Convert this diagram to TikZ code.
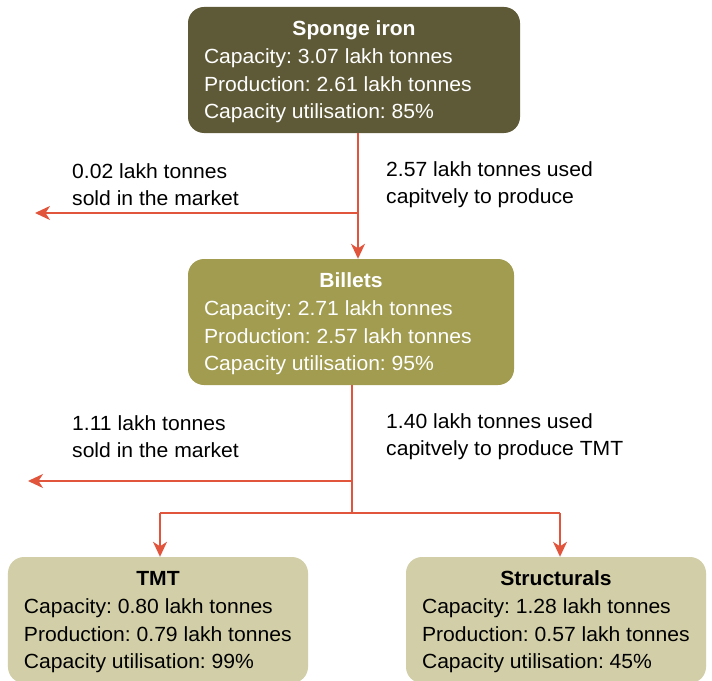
\documentclass[tikz,border=0pt]{standalone}
\usepackage{fontspec}
\setmainfont[FakeStretch=1.03]{Liberation Sans}
\frenchspacing
\usetikzlibrary{arrows.meta}
\definecolor{dark}{HTML}{5E5A37}
\definecolor{mid}{HTML}{A19C50}
\definecolor{light}{HTML}{D2CFA8}
\definecolor{arr}{HTML}{E2553D}
\begin{document}
\begin{tikzpicture}[x=1bp,y=-1bp,
  box/.style={rounded corners=16bp, inner sep=0pt, minimum height=126bp},
  ttl/.style={anchor=base, inner sep=0pt, font=\fontsize{20.5bp}{28bp}\selectfont\bfseries},
  body/.style={anchor=north west, align=left, inner sep=0pt, font=\fontsize{20.5bp}{27.5bp}\selectfont\frenchspacing},
  flow/.style={draw=arr, line width=1.8bp},
  arrowed/.style={flow, -{Stealth[length=15bp,width=14bp,inset=4.5bp]}},
  lbl/.style={anchor=west, align=left, inner sep=0pt, font=\fontsize{20.5bp}{27bp}\selectfont\frenchspacing}]
\useasboundingbox (0,0) rectangle (712,681);

% boxes
\node[box, fill=dark, minimum width=332bp] (sponge) at (354,70) {};
\node[box, fill=mid, minimum width=326bp] (billets) at (351,322) {};
\node[box, fill=light, minimum width=300bp] (tmt) at (158,620) {};
\node[box, fill=light, minimum width=300bp] (struct) at (556,620) {};

% texts
\node[ttl, text=white] (spongeT) at ([yshift=-29bp]sponge.north) {Sponge iron};
\node[body, text=white] (spongeB) at ([xshift=16bp,yshift=-42bp]sponge.north west)
  {Capacity: 3.07 lakh tonnes\\Production: 2.61 lakh tonnes\\Capacity utilisation: 85\%};
\node[ttl, text=white] (billetsT) at ([yshift=-29bp]billets.north) {Billets};
\node[body, text=white] (billetsB) at ([xshift=16bp,yshift=-42bp]billets.north west)
  {Capacity: 2.71 lakh tonnes\\Production: 2.57 lakh tonnes\\Capacity utilisation: 95\%};
\node[ttl, text=black] (tmtT) at ([yshift=-29bp]tmt.north) {TMT};
\node[body, text=black] (tmtB) at ([xshift=16bp,yshift=-42bp]tmt.north west)
  {Capacity: 0.80 lakh tonnes\\Production: 0.79 lakh tonnes\\Capacity utilisation: 99\%};
\node[ttl, text=black] (structT) at ([yshift=-29bp]struct.north) {Structurals};
\node[body, text=black] (structB) at ([xshift=16bp,yshift=-42bp]struct.north west)
  {Capacity: 1.28 lakh tonnes\\Production: 0.57 lakh tonnes\\Capacity utilisation: 45\%};

% connectors
\coordinate (j1) at (358,213);
\coordinate (m1) at (35,213);
\draw[arrowed] (sponge.south -| j1) -- (billets.north -| j1);
\draw[arrowed] (j1) -- (m1);

\coordinate (j2) at (352,481);
\coordinate (m2) at (28,481);
\coordinate (j3) at (352,513);
\coordinate (tl) at (160,513);
\coordinate (tr) at (560,513);
\draw[flow] (billets.south -| j2) -- (j3);
\draw[arrowed] (j2) -- (m2);
\draw[flow] (tl) -- (tr);
\draw[arrowed] (tl) -- (tmt.north -| tl);
\draw[arrowed] (tr) -- (struct.north -| tr);

% labels
\node[lbl] (l1) at (72,185) {0.02 lakh tonnes\\sold in the market};
\node[lbl] (l2) at (386,185) {2.57 lakh tonnes used\\capitvely to produce};
\node[lbl] (l3) at (72,437) {1.11 lakh tonnes\\sold in the market};
\node[lbl] (l4) at (386,437) {1.40 lakh tonnes used\\capitvely to produce TMT};
\end{tikzpicture}
\end{document}
